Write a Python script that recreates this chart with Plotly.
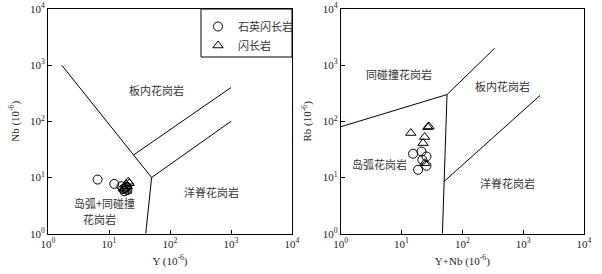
import math
import plotly.graph_objects as go

# ---------------- data ----------------
tick_vals = [1, 10, 100, 1000, 10000]
tick_text = ["10<sup>0</sup>", "10<sup>1</sup>", "10<sup>2</sup>", "10<sup>3</sup>", "10<sup>4</sup>"]

# Left panel: Nb vs Y
qd_y = [6.5, 12.2, 16, 17, 18, 19.5, 20, 18.5]
qd_nb = [9.2, 7.7, 7.0, 6.2, 5.7, 6.8, 6.0, 6.5]
di_y = [20.7, 19, 18, 21.5, 19.5, 17.5, 20]
di_nb = [8.4, 7.6, 6.6, 7.9, 5.8, 6.3, 7.0]

# Right panel: Rb vs Y+Nb
qd_ynb = [15.5, 21.3, 25.7, 22, 25.7, 18.7]
qd_rb = [26.5, 29, 23.7, 20.7, 16.2, 13.7]
di_ynb = [14.2, 28.3, 27, 24, 22.6, 24]
di_rb = [62, 81, 79, 52.6, 41, 18]

# Discrimination boundaries (Pearce et al., 1984)
nb_b1_x = [1.68, 50, 40]
nb_b1_y = [1000, 10, 1]
nb_b2_x = [50, 1000]
nb_b2_y = [10, 100]
nb_b3_x = [25, 1000]
nb_b3_y = [25, 400]

rb_b1_x = [1, 56, 340]
rb_b1_y = [80, 300, 2000]
rb_b2_x = [56, 50, 47]
rb_b2_y = [300, 8.5, 1]
rb_b3_x = [50, 1900]
rb_b3_y = [8.5, 290]

left_labels = [("板内花岗岩", 61, 368), ("洋脊花岗岩", 483, 5.6),
               ("岛弧+同碰撞", 8.3, 3.45), ("花岗岩", 7.1, 1.85)]
right_labels = [("同碰撞花岗岩", 9.0, 710), ("板内花岗岩", 449, 434),
                ("岛弧花岗岩", 4.4, 17.3), ("洋脊花岗岩", 542, 8.0)]

legend_names = ["石英闪长岩", "闪长岩"]

# ---------------- figure ----------------
W, H = 602, 274
serif = "Liberation Serif, Times New Roman, serif"
cjk = "Noto Sans CJK SC, sans-serif"

def px(x):
    return x / W

def py(y):
    return 1 - y / H

fig = go.Figure()

line_style = dict(color="black", width=1)

def add_lines(xs, ys, xa, ya):
    fig.add_trace(go.Scatter(x=xs, y=ys, mode="lines", line=line_style,
                             showlegend=False, hoverinfo="skip", xaxis=xa, yaxis=ya))

for xs, ys in [(nb_b1_x, nb_b1_y), (nb_b2_x, nb_b2_y), (nb_b3_x, nb_b3_y)]:
    add_lines(xs, ys, "x", "y")
for xs, ys in [(rb_b1_x, rb_b1_y), (rb_b2_x, rb_b2_y), (rb_b3_x, rb_b3_y)]:
    add_lines(xs, ys, "x2", "y2")

circ = dict(symbol="circle-open", size=9, color="black", line=dict(width=1, color="black"))
tri = dict(symbol="triangle-up-open", size=9, color="black", line=dict(width=1, color="black"))

fig.add_trace(go.Scatter(x=qd_y, y=qd_nb, mode="markers", marker=circ, name=legend_names[0],
                         xaxis="x", yaxis="y", legendgroup="a"))
fig.add_trace(go.Scatter(x=di_y, y=di_nb, mode="markers", marker=tri, name=legend_names[1],
                         xaxis="x", yaxis="y", legendgroup="b"))
fig.add_trace(go.Scatter(x=qd_ynb, y=qd_rb, mode="markers", marker=circ, name=legend_names[0],
                         xaxis="x2", yaxis="y2", showlegend=False, legendgroup="a"))
fig.add_trace(go.Scatter(x=di_ynb, y=di_rb, mode="markers", marker=tri, name=legend_names[1],
                         xaxis="x2", yaxis="y2", showlegend=False, legendgroup="b"))

ann = []
for t, x, y in left_labels:
    ann.append(dict(text=t, x=math.log10(x), y=math.log10(y),
                    xref="x", yref="y", showarrow=False, font=dict(family=cjk, size=11, color="#333")))
for t, x, y in right_labels:
    ann.append(dict(text=t, x=math.log10(x), y=math.log10(y),
                    xref="x2", yref="y2", showarrow=False, font=dict(family=cjk, size=11, color="#333")))

ax_common = dict(type="log", range=[0, 4], tickvals=tick_vals, ticktext=tick_text,
                 ticks="inside", ticklen=4, tickcolor="black", showline=True, linecolor="black",
                 linewidth=1, mirror=True, showgrid=False, zeroline=False, automargin=False,
                 ticklabeloverflow="allow",
                 tickfont=dict(family=serif, size=11, color="#222"))

title_font = dict(family=serif, size=11, color="#222")
yb, yt = py(233.7), py(9)
fig.update_layout(
    width=W, height=H, margin=dict(l=0, r=0, t=0, b=0),
    paper_bgcolor="white", plot_bgcolor="white",
    xaxis=dict(ax_common, domain=[px(48), px(292)], anchor="y",
               title=dict(text="Y (10<sup>-6</sup>)", font=title_font, standoff=8)),
    yaxis=dict(ax_common, domain=[yb, yt], anchor="x",
               title=dict(text="Nb (10<sup>-6</sup>)", font=title_font, standoff=8)),
    xaxis2=dict(ax_common, domain=[px(340.7), px(584)], anchor="y2",
                title=dict(text="Y+Nb (10<sup>-6</sup>)", font=title_font, standoff=8)),
    yaxis2=dict(ax_common, domain=[yb, yt], anchor="x2",
                title=dict(text="Rb (10<sup>-6</sup>)", font=title_font, standoff=8)),
    legend=dict(x=px(198), y=py(12), xanchor="left", yanchor="top", bgcolor="rgba(0,0,0,0)",
                borderwidth=0, font=dict(family=cjk, size=11, color="#333"), itemwidth=30,
                tracegroupgap=0),
    shapes=[dict(type="rect", xref="paper", yref="paper", x0=px(201), x1=px(292),
                 y0=py(57), y1=yt, line=dict(color="black", width=1), fillcolor="white", layer="below")],
    annotations=ann,
    showlegend=True,
)

# remove the page's default 8px body margin so the figure fills the window exactly
fig.write_html("out.html", config={"displayModeBar": False},
               post_script="document.body.style.margin='0px';")
